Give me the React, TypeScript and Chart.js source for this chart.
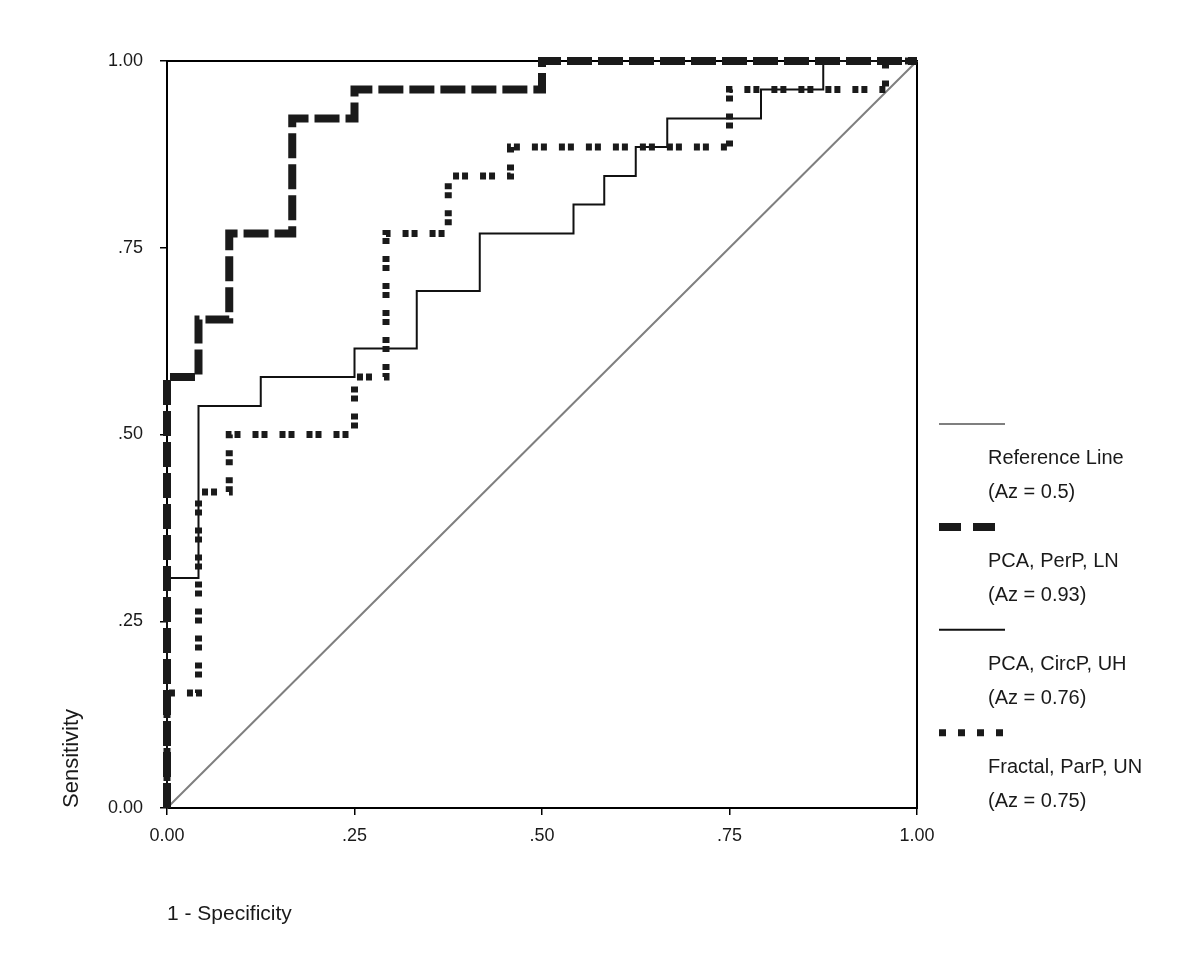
import React, { useEffect, useRef } from "react";
import { Chart, registerables } from "chart.js";

Chart.register(...registerables);

// ---- Data (ROC operating points: 1 - specificity, sensitivity) ----
const refFpr = [0, 1];
const refTpr = [0, 1];

const perpFpr = [0, 0, 0.042, 0.083, 0.167, 0.25, 0.5, 1];
const perpTpr = [0, 0.577, 0.654, 0.769, 0.923, 0.962, 1, 1];

const circFpr = [0, 0, 0.042, 0.125, 0.25, 0.333, 0.417, 0.542, 0.583, 0.625, 0.667, 0.792, 0.875, 1];
const circTpr = [0, 0.308, 0.538, 0.577, 0.615, 0.692, 0.769, 0.808, 0.846, 0.885, 0.923, 0.962, 1, 1];

const fracFpr = [0, 0, 0.042, 0.083, 0.25, 0.292, 0.375, 0.458, 0.75, 0.958, 1];
const fracTpr = [0, 0.154, 0.423, 0.5, 0.577, 0.769, 0.846, 0.885, 0.962, 1, 1];

const xTickLabels = ["0.00", ".25", ".50", ".75", "1.00"];
const yTickLabels = ["0.00", ".25", ".50", ".75", "1.00"];

const legendLines = [
  ["Reference Line", "(Az = 0.5)"],
  ["PCA, PerP, LN", "(Az = 0.93)"],
  ["PCA, CircP, UH", "(Az = 0.76)"],
  ["Fractal, ParP, UN", "(Az = 0.75)"],
];

const xTitle = "1 - Specificity";
const yTitle = "Sensitivity";

const FONT = "'Liberation Sans', Arial, Helvetica, sans-serif";

const toPoints = (xs: number[], ys: number[]) => xs.map((x, i) => ({ x, y: ys[i] }));

export default function App() {
  const canvasRef = useRef<HTMLCanvasElement | null>(null);

  useEffect(() => {
    if (!canvasRef.current) return;

    const legendDashes: number[][] = [[], [22, 12], [], [7, 12]];

    const framePlugin = {
      id: "frame",
      beforeDatasetsDraw(chart: any) {
        const { ctx, chartArea } = chart;
        ctx.save();
        ctx.strokeStyle = "#000";
        ctx.lineWidth = 2;
        ctx.strokeRect(chartArea.left, chartArea.top, chartArea.right - chartArea.left, chartArea.bottom - chartArea.top);
        ctx.restore();
      },
    };

    const legendPlugin = {
      id: "sideLegend",
      afterDraw(chart: any) {
        const { ctx } = chart;
        const rowH = 34.3;
        let y = 424;
        const lineX0 = 939;
        const lineX1 = 1005;
        const textX = 988;
        ctx.save();
        [0, 1, 2, 3].forEach((di, k) => {
          const ds = chart.data.datasets[di];
          ctx.beginPath();
          ctx.strokeStyle = ds.borderColor;
          ctx.lineWidth = ds.borderWidth;
          ctx.lineCap = "butt";
          ctx.setLineDash(legendDashes[k]);
          ctx.moveTo(lineX0, y);
          ctx.lineTo(lineX1, y);
          ctx.stroke();
          ctx.setLineDash([]);
          ctx.fillStyle = "#1a1a1a";
          ctx.font = `20px ${FONT}`;
          ctx.textAlign = "left";
          ctx.textBaseline = "middle";
          ctx.fillText(legendLines[k][0], textX, y + rowH);
          ctx.fillText(legendLines[k][1], textX, y + rowH * 2);
          y += rowH * 3;
        });
        ctx.restore();
      },
    };

    const chart = new Chart(canvasRef.current, {
      type: "line",
      data: {
        datasets: [
          {
            label: "Reference Line",
            data: toPoints(refFpr, refTpr),
            borderColor: "#7f7f7f",
            borderWidth: 2,
            pointRadius: 0,
            order: 3,
          },
          {
            label: "PCA, PerP, LN",
            data: toPoints(perpFpr, perpTpr),
            borderColor: "#1a1a1a",
            borderWidth: 8,
            borderDash: [25, 6],
            borderCapStyle: "butt",
            borderJoinStyle: "miter",
            stepped: "before",
            pointRadius: 0,
            order: 0,
          },
          {
            label: "PCA, CircP, UH",
            data: toPoints(circFpr, circTpr),
            borderColor: "#111",
            borderWidth: 2,
            borderJoinStyle: "miter",
            stepped: "before",
            pointRadius: 0,
            order: 2,
          },
          {
            label: "Fractal, ParP, UN",
            data: toPoints(fracFpr, fracTpr),
            borderColor: "#1a1a1a",
            borderWidth: 7,
            borderDash: [6, 3, 6, 12],
            borderCapStyle: "butt",
            borderJoinStyle: "miter",
            stepped: "before",
            pointRadius: 0,
            order: 1,
          },
        ] as any,
      },
      options: {
        animation: false,
        responsive: true,
        maintainAspectRatio: false,
        clip: 10 as any,
        layout: { padding: { left: 0, right: 282, top: 61, bottom: 0 } },
        plugins: {
          legend: { display: false },
          tooltip: { enabled: false },
        },
        scales: {
          x: {
            type: "linear",
            min: 0,
            max: 1,
            afterFit: (s: any) => {
              s.height = 154;
            },
            ticks: {
              stepSize: 0.25,
              color: "#1a1a1a",
              font: { family: FONT, size: 18 },
              padding: 10,
              maxRotation: 0,
              callback: (_v: any, i: number) => xTickLabels[i],
            },
            grid: {
              display: true,
              drawOnChartArea: false,
              drawTicks: true,
              tickLength: 7,
              color: "#000",
              lineWidth: 1.5,
            },
            border: { display: true, color: "#000", width: 2 },
            title: {
              display: true,
              text: xTitle,
              align: "start",
              color: "#1a1a1a",
              font: { family: FONT, size: 21 },
              padding: { top: 0, bottom: 35 },
            },
          },
          y: {
            type: "linear",
            min: 0,
            max: 1,
            afterFit: (s: any) => {
              s.width = 167;
            },
            ticks: {
              stepSize: 0.25,
              color: "#1a1a1a",
              font: { family: FONT, size: 18 },
              padding: 17,
              callback: (_v: any, i: number) => yTickLabels[i],
            },
            grid: {
              display: true,
              drawOnChartArea: false,
              drawTicks: true,
              tickLength: 7,
              color: "#000",
              lineWidth: 1.5,
            },
            border: { display: true, color: "#000", width: 2 },
            title: {
              display: true,
              text: yTitle,
              align: "start",
              color: "#1a1a1a",
              font: { family: FONT, size: 22 },
              padding: { top: 59, bottom: 0 },
            },
          },
        },
      } as any,
      plugins: [framePlugin, legendPlugin],
    });

    return () => chart.destroy();
  }, []);

  return (
    <div style={{ position: "fixed", left: 0, top: 0, width: 1199, height: 962, background: "#fff" }}>
      <canvas ref={canvasRef} />
    </div>
  );
}
